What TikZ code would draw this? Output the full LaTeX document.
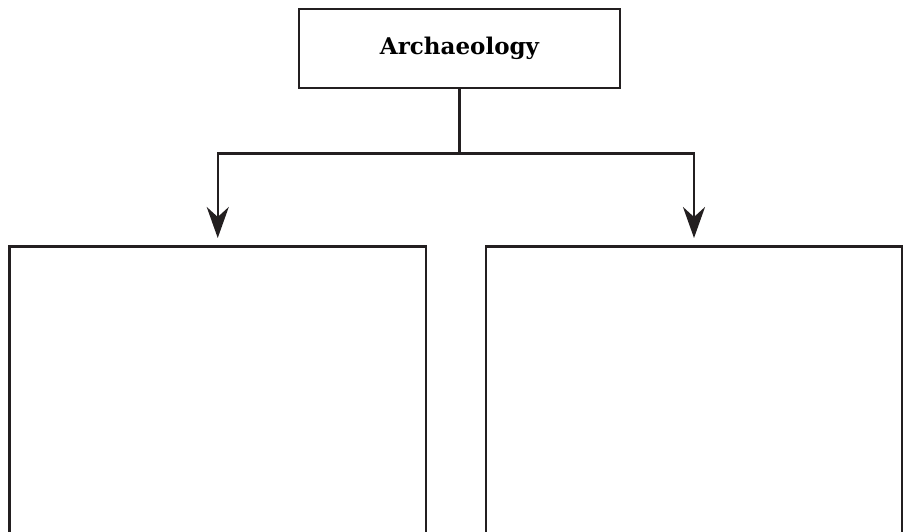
\documentclass[tikz,border=0pt]{standalone}
\usepackage{fontspec}
\newfontfamily\slabfont{DejaVu Serif}
\usetikzlibrary{arrows.meta}
\definecolor{ink}{HTML}{231F20}
\begin{document}
\begin{tikzpicture}[x=1pt,y=-1pt,
  box/.style={draw=ink,line width=2.7pt,rectangle,inner sep=0pt},
  link/.style={draw=ink,line width=2.5pt},
  tip/.style={-{Stealth[length=31pt,width=22pt,inset=10pt]}}]
  \useasboundingbox (0,0) rectangle (909,532);
  \clip (0,0) rectangle (909,532);
  % heading box
  \node[box,minimum width=321pt,minimum height=79pt,
        font=\slabfont\bfseries\fontsize{23}{27}\selectfont] (top) at (459.5,48.5) {Archaeology};
  % two empty panels running off the bottom edge
  \node[box,minimum width=416.5pt,minimum height=320pt,anchor=north] (left) at (217.75,245) {};
  \node[box,minimum width=416pt,minimum height=320pt,anchor=north] (right) at (694,245) {};
  % branching connector
  \path (top.south) ++(0,64) coordinate (join);
  \draw[link] (top.south) -- (join);
  \draw[link,tip,shorten >=7pt] (join) -| (left.north);
  \draw[link,tip,shorten >=7pt] (join) -| (right.north);
\end{tikzpicture}
\end{document}
